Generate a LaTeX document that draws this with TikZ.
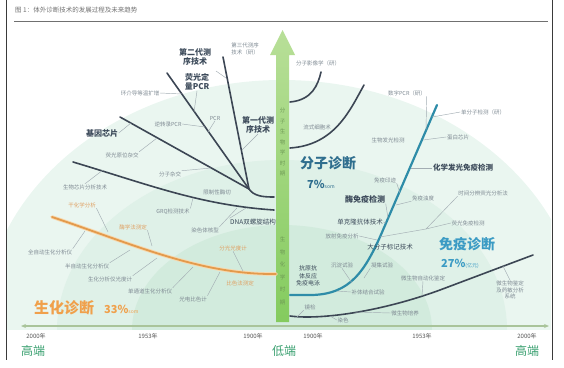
\documentclass[tikz,border=0pt]{standalone}
\usepackage{fontspec}
\setmainfont{Noto Sans CJK SC}
\usetikzlibrary{arrows.meta}
\definecolor{frame}{HTML}{3A3A3A}
\definecolor{titlegrey}{HTML}{707070}
\definecolor{smgrey}{HTML}{7F8A93}
\definecolor{mddark}{HTML}{3C4A5A}
\definecolor{moldark}{HTML}{3C4654}
\definecolor{orlab}{HTML}{E0A062}
\definecolor{orline}{HTML}{E39A4C}
\definecolor{orglow}{HTML}{F7D9AE}
\definecolor{blueline}{HTML}{2E8CA8}
\definecolor{molblue}{HTML}{2F6E8E}
\definecolor{immblue}{HTML}{3B9BC4}
\definecolor{bioor}{HTML}{F0A04B}
\definecolor{leadgrey}{HTML}{A3ADB3}
\definecolor{bgouter}{HTML}{EAF6F0}
\definecolor{bgmid}{HTML}{DFF1E8}
\definecolor{bginner}{HTML}{D2EBDD}
\definecolor{arrowtop}{HTML}{B8DF98}
\definecolor{arrowbot}{HTML}{84CB5E}
\definecolor{arrowtxt}{HTML}{6E9A55}
\definecolor{axisc}{HTML}{A9C49A}
\definecolor{endgreen}{HTML}{3AA070}
\definecolor{yeargrey}{HTML}{555555}
\tikzset{
  sm/.style={font=\fontsize{5.5}{6.5}\selectfont, text=smgrey, inner sep=0.5pt, align=center},
  smo/.style={sm, text=orlab},
  md/.style={font=\fontsize{8}{9}\selectfont\bfseries, text=mddark, inner sep=0.5pt, align=center},
  mdsm/.style={font=\fontsize{6.5}{7.5}\selectfont, text=mddark, inner sep=0.5pt, align=center},
  molline/.style={line width=1.6pt, draw=moldark, line cap=round},
  lead/.style={draw=leadgrey, line width=0.45pt},
  big/.style={font=\fontsize{14}{14}\selectfont\bfseries, inner sep=0pt},
  pct/.style={inner sep=0pt, anchor=west},
  year/.style={font=\fontsize{6}{6}\selectfont, text=yeargrey, inner sep=0pt},
  endlab/.style={font=\fontsize{12}{12}\selectfont, text=endgreen, inner sep=0pt},
  vtext/.style={font=\fontsize{5.5}{10.5}\selectfont, text=arrowtxt, align=center, inner sep=0pt},
}
\begin{document}
\begin{tikzpicture}[x=1pt,y=-1pt]
\useasboundingbox (0,0) rectangle (564,367);
% background dome
\begin{scope}
  \clip (7,22) rectangle (551,329);
  \fill[bgouter] (282,330) ellipse [x radius=300, y radius=250];
  \fill[bgmid] (282,330) ellipse [x radius=225, y radius=170];
  \fill[bginner] (282,330) ellipse [x radius=150, y radius=105];
\end{scope}
% frame and title
\draw[frame, line width=0.9pt] (6,0) -- (6,360);
\draw[frame, line width=0.9pt] (552,0) -- (552,360);
\node[anchor=west, font=\fontsize{6.5}{6.5}\selectfont, text=titlegrey, inner sep=0pt] (title) at (15,10) {图 1：体外诊断技术的发展过程及未来趋势};
\coordinate (tl) at (14,21);
\coordinate (tr) at (548,21);
\draw[titlegrey, line width=0.6pt] (tl) -- (tr);

% axis
\coordinate (axl) at (21,326);
\coordinate (axr) at (549,326);
\draw[axisc, line width=1.2pt, {Stealth[length=5pt,width=4pt]}-{Stealth[length=5pt,width=4pt]}] (axl) -- (axr);

% central arrow
\shade[top color=arrowtop, bottom color=arrowbot] (276,55) -- (270,55) -- (282.5,30) -- (295,55) -- (289,55) -- (289,322) -- (276,322) -- cycle;
\node[vtext] (vt1) at (282.5,142) {分\\子\\生\\物\\学\\时\\期};
\node[vtext, font=\fontsize{5.5}{12.5}\selectfont] (vt2) at (282.5,271) {生\\物\\化\\学\\时\\期};

% ---- left molecular lines
\coordinate (jx) at (249,189);
\coordinate (a0) at (223,57);
\coordinate (b0) at (167,73);
\coordinate (c0) at (120,117);
\coordinate (jend) at (274,197);
\draw[molline] (a0) -- (jx);
\draw[molline] (b0) -- (jx);
\draw[molline] (c0) -- (jx);
\draw[molline] (jx) .. controls (254,196) and (262,197) .. (jend);
\coordinate (d0) at (73,162);
\coordinate (dend) at (274,210);
\draw[molline] (d0) .. controls (150,185) and (200,205) .. (dend);

% ---- orange line
\coordinate (o0) at (52,217);
\coordinate (oend) at (276,274);
\draw[orglow, line width=3.6pt, line cap=round] (o0) .. controls (130,243) and (200,275) .. (oend);
\draw[orline, line width=1.8pt, line cap=round] (o0) .. controls (130,243) and (200,275) .. (oend);

% ---- right lines
\coordinate (e0) at (290,102);
\coordinate (e1) at (321,72);
\draw[molline] (e0) .. controls (312,100) and (318,85) .. (e1);
\coordinate (f0) at (290,148);
\coordinate (f1) at (364,85);
\draw[molline] (f0) .. controls (335,145) and (350,110) .. (f1);
\coordinate (g0) at (437,105);
\coordinate (g1) at (383,230);
\coordinate (g2) at (290,295);
\draw[blueline, line width=2.2pt, line cap=round] (g0) -- (g1) .. controls (365,272) and (350,294) .. (312,295) -- (g2);
\coordinate (h0) at (290,316);
\coordinate (h1) at (533,255);
\draw[molline] (h0) .. controls (320,320) and (380,312) .. (440,290) -- (h1);

% ---- left molecular labels
\node[md] (n2g) at (195,57) {第二代测\\序技术};
\node[md] (nqpcr) at (197,82) {荧光定\\量PCR};
\node[md] (n1g) at (258,125) {第一代测\\序技术};
\node[md] (nchip) at (102,133) {基因芯片};
\node[mdsm] (ndna) at (253,222) {DNA双螺旋结构};
\node[sm] (n3g) at (245,49) {第三代测序\\技术（研）};
\node[sm] (nlamp) at (140,93) {环介导等温扩增};
\node[sm] (nrt) at (168,124) {逆转录PCR};
\node[sm] (npcr) at (215,118) {PCR};
\node[sm] (nfish) at (122,155) {荧光原位杂交};
\node[sm] (nhyb) at (170,174) {分子杂交};
\node[sm] (nbio) at (85,187) {生物芯片分析技术};
\node[sm] (nrest) at (217,192) {限制性酶切};
\node[sm] (ngrq) at (173,212) {GRQ检测技术};
\node[sm] (nchr) at (205,230) {染色体核型};

% leaders left molecular
\coordinate (k3g0) at (216,71);
\coordinate (k3g) at (226,78);
\draw[lead] (k3g0) -- (k3g);
\coordinate (klamp) at (182,94);
\draw[lead] (nlamp.east) -- (klamp);
\coordinate (kqpcr) at (194,112);
\draw[lead] (nqpcr.south) -- (kqpcr);
\coordinate (krt) at (205,127);
\draw[lead] (nrt.east) -- (krt);
\coordinate (kpcr) at (208,132);
\draw[lead] (npcr.south) -- (kpcr);
\coordinate (k1g) at (242,150);
\draw[lead] (n1g.south) -- (k1g);
\coordinate (kchip) at (131,123);
\draw[lead] (nchip.east) -- (kchip);
\coordinate (kfish) at (157,138);
\draw[lead] (nfish.north east) -- (kfish);
\coordinate (khyb) at (211,168);
\draw[lead] (nhyb.north east) -- (khyb);
\coordinate (kbio) at (103,170);
\draw[lead] (nbio.north) -- (kbio);
\coordinate (kgrq) at (193,198);
\draw[lead] (ngrq.north east) -- (kgrq);
\coordinate (kdna) at (246,208);
\draw[lead] (ndna.north west) -- (kdna);
\coordinate (kchr) at (237,208);
\draw[lead] (nchr.north east) -- (kchr);

% ---- orange labels
\node[smo] (ndry) at (82,205) {干化学分析};
\node[smo] (nenz) at (133,227) {酶学法测定};
\node[sm] (nauto) at (50,252) {全自动生化分析仪};
\node[sm] (nsemi) at (87,266) {半自动生化分析仪};
\node[sm] (nphot) at (110,279) {生化分析仪光度计};
\node[sm] (nsing) at (150,291) {单通道生化分析仪};
\node[sm] (ncolm) at (193,299) {光电比色计};
\node[smo] (nspec) at (233,248) {分光光度计};
\node[smo] (ncolr) at (240,283) {比色法测定};
\coordinate (kdry) at (108,232);
\draw[lead] (ndry.south east) -- (kdry);
\coordinate (kenz) at (152,246);
\draw[lead] (nenz.south east) -- (kenz);
\coordinate (kauto) at (85,231);
\draw[lead] (nauto.north east) -- (kauto);
\coordinate (ksemi) at (130,250);
\draw[lead] (nsemi.north east) -- (ksemi);
\coordinate (kphot) at (157,258);
\draw[lead] (nphot.north east) -- (kphot);
\coordinate (ksing) at (193,267);
\draw[lead] (nsing.north east) -- (ksing);
\coordinate (kcolm) at (220,272);
\draw[lead] (ncolm.north east) -- (kcolm);
\coordinate (kspec) at (243,271);
\draw[lead] (nspec.south) -- (kspec);

% ---- right molecular / immuno labels
\node[sm] (nimg) at (318,63) {分子影像学（研）};
\node[sm] (nflow) at (317,127) {流式细胞术};
\node[sm] (ndpcr) at (407,93) {数字PCR（研）};
\node[sm] (nsm) at (483,112) {单分子检测（研）};
\node[sm] (nprot) at (458,137) {蛋白芯片};
\node[sm] (nlum) at (388,140) {生物发光检测};
\node[md, font=\fontsize{7.5}{8.5}\selectfont\bfseries] (nclia) at (463,168) {化学发光免疫检测};
\node[sm] (nwb) at (385,180) {免疫印迹};
\node[md] (neia) at (365,199) {酶免疫检测};
\node[sm] (nturb) at (423,198) {免疫浊度};
\node[sm] (ntrf) at (483,193) {时间分辨荧光分析法};
\node[mdsm] (nmab) at (360,222) {单克隆抗体技术};
\node[sm] (nfia) at (468,223) {荧光免疫检测};
\node[sm] (nria) at (342,236) {放射免疫分析};
\node[mdsm] (nmacro) at (390,247) {大分子标记技术};
\node[mdsm, font=\fontsize{6}{7.5}\selectfont] (nag) at (308,276) {抗原抗\\体反应\\免疫电泳};
\node[sm] (nprec) at (342,265) {沉淀试验};
\node[sm] (nagg) at (382,265) {凝集试验};
\node[sm] (ncomp) at (368,292) {补体结合试验};
\node[sm] (nmicro) at (423,278) {微生物自动化鉴定};
\node[sm] (nast) at (510,290) {微生物鉴定\\及药敏分析\\系统};
\node[sm] (nmic) at (310,307) {镜检};
\node[sm] (ncult) at (405,313) {微生物培养};
\node[sm] (nstain) at (343,320) {染色};

\coordinate (kdpcr) at (426,130);
\draw[lead] (ndpcr.south east) -- (kdpcr);
\coordinate (ksm) at (432,117);
\draw[lead] (nsm.west) -- (ksm);
\coordinate (kprot) at (423,140);
\draw[lead] (nprot.west) -- (kprot);
\coordinate (kclia) at (411,168);
\draw[lead] (nclia.west) -- (kclia);
\coordinate (kwb) at (400,193);
\draw[lead] (nwb.south east) -- (kwb);
\coordinate (keia) at (388,218);
\draw[lead] (neia.south east) -- (keia);
\coordinate (kturb) at (396,205);
\draw[lead] (nturb.south west) -- (kturb);
\coordinate (kjn) at (426,229);
\coordinate (kjend) at (380,237);
\draw[lead] (ntrf.south west) -- (kjn) -- (kjend);
\draw[lead] (nfia.west) -- (kjn);
\coordinate (kmab) at (386,223);
\draw[lead] (nmab.east) -- (kmab);
\coordinate (kria) at (377,240);
\draw[lead] (nria.east) -- (kria);
\coordinate (kprec) at (352,283);
\draw[lead] (nprec.south) -- (kprec);
\coordinate (kagg) at (364,278);
\draw[lead] (nagg.south west) -- (kagg);
\coordinate (kcomp) at (337,291);
\draw[lead] (ncomp.west) -- (kcomp);
\coordinate (kmicro) at (422,296);
\draw[lead] (nmicro.south) -- (kmicro);
\coordinate (kast) at (503,266);
\draw[lead] (nast.north) -- (kast);
\coordinate (kmic) at (297,317);
\draw[lead] (nmic.south west) -- (kmic);
\coordinate (kcult) at (355,312);
\draw[lead] (ncult.west) -- (kcult);
\coordinate (kstain) at (330,316);
\draw[lead] (nstain.west) -- (kstain);

% ---- big category labels
\node[big, text=molblue] (bmol) at (328,163) {分子诊断};
\node[pct, text=molblue] (pmol) at (307,184) {\fontsize{11}{11}\selectfont\bfseries 7\%\fontsize{5}{5}\selectfont\mdseries som};
\node[big, text=immblue] (bimm) at (467,244) {免疫诊断};
\node[pct, text=immblue] (pimm) at (441,264) {\fontsize{11}{11}\selectfont\bfseries 27\%\fontsize{5}{5}\selectfont\mdseries (亿元)};
\node[big, text=bioor, font=\fontsize{15}{15}\selectfont\bfseries] (bbio) at (64,308) {生化诊断};
\node[pct, text=bioor] (pbio) at (104,309) {\fontsize{11}{11}\selectfont\bfseries 33\%\fontsize{5}{5}\selectfont\mdseries som};

% ---- axis labels
\node[year] (y1) at (36,336) {2000年};
\node[year] (y2) at (148,336) {1953年};
\node[year] (y3) at (253,336) {1900年};
\node[year] (y4) at (313,336) {1900年};
\node[year] (y5) at (422,336) {1953年};
\node[year] (y6) at (527,336) {2000年};
\node[endlab] (e1lab) at (33,351) {高端};
\node[endlab] (e2lab) at (284,351) {低端};
\node[endlab] (e3lab) at (527,351) {高端};
\end{tikzpicture}
\end{document}
